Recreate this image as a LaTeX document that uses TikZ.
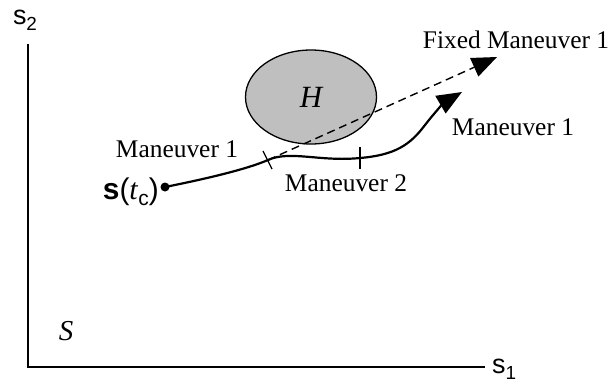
\documentclass[tikz,border=0pt]{standalone}
\usepackage{fontspec}
\setmainfont{Liberation Serif}
\setsansfont{Liberation Sans}
\usetikzlibrary{arrows.meta,shapes.geometric}
\begin{document}
\begin{tikzpicture}[x=1bp,y=-1bp,
  axis/.style={line width=1.6bp},
  lbl/.style={inner sep=0pt,font=\fontsize{25.5}{28}\selectfont},
  axlbl/.style={inner sep=0pt,font=\sffamily\fontsize{27}{30}\selectfont},
  bigtip/.style={-{Triangle[length=25bp,width=20bp]}},
  tick/.style={line width=1.2bp}]
\useasboundingbox (0,0) rectangle (613,383);
% axes
\coordinate (o) at (28,367);
\coordinate (ytop) at (28,44);
\coordinate (xend) at (485,367);
\draw[axis] (ytop) -- (o) -- (xend);
\node[axlbl] (s2) at (25,20) {s\raisebox{-0.45ex}{\fontsize{19}{20}\selectfont 2}};
\node[axlbl,anchor=west] (s1) at (492,369) {s\raisebox{-0.45ex}{\fontsize{19}{20}\selectfont 1}};
\node[lbl,font=\itshape\fontsize{29}{32}\selectfont] (S) at (66,331) {S};
% obstacle region
\node[draw,line width=1.3bp,fill=black!25,ellipse,minimum width=131bp,minimum height=94bp,inner sep=0pt] (H) at (311,97) {};
\node[font=\itshape\fontsize{31}{34}\selectfont,inner sep=0pt] (Hl) at (311,97) {H};
% start state
\node[circle,fill=black,inner sep=0pt,minimum size=9bp] (st) at (165,187) {};
\node[anchor=east,inner sep=0pt] (stl) at (159,192)
  {\sffamily\fontsize{30}{32}\selectfont\textbf{s}(\textit{\rmfamily t}\raisebox{-0.35ex}{\fontsize{21}{22}\selectfont c})};
% switching points
\coordinate (t1) at (268,160);
\coordinate (t2) at (360,158);
\coordinate (solidtip) at (462,92);
\coordinate (dashtip) at (497,57);
% fixed maneuver (dashed)
\draw[line width=1.4bp,dash pattern=on 8bp off 5bp,bigtip] (t1) -- (dashtip);
% planned trajectory
\draw[line width=2.2bp,bigtip] (st.center) .. controls (200,180) and (245,170) .. (t1)
  .. controls (290,150) and (320,162) .. (t2)
  .. controls (395,155) and (410,145) .. (425,125)
  .. controls (435,112) and (445,102) .. (solidtip);
% tick marks
\draw[tick] (263,151) -- (272,169);
\draw[tick] (360,147) -- (360,169);
% labels
\node[lbl] (m1a) at (177,149) {Maneuver 1};
\node[lbl] (m2) at (346,183) {Maneuver 2};
\node[lbl] (m1b) at (513,127) {Maneuver 1};
\node[lbl] (fm) at (516,40) {Fixed Maneuver 1};
\end{tikzpicture}
\end{document}
